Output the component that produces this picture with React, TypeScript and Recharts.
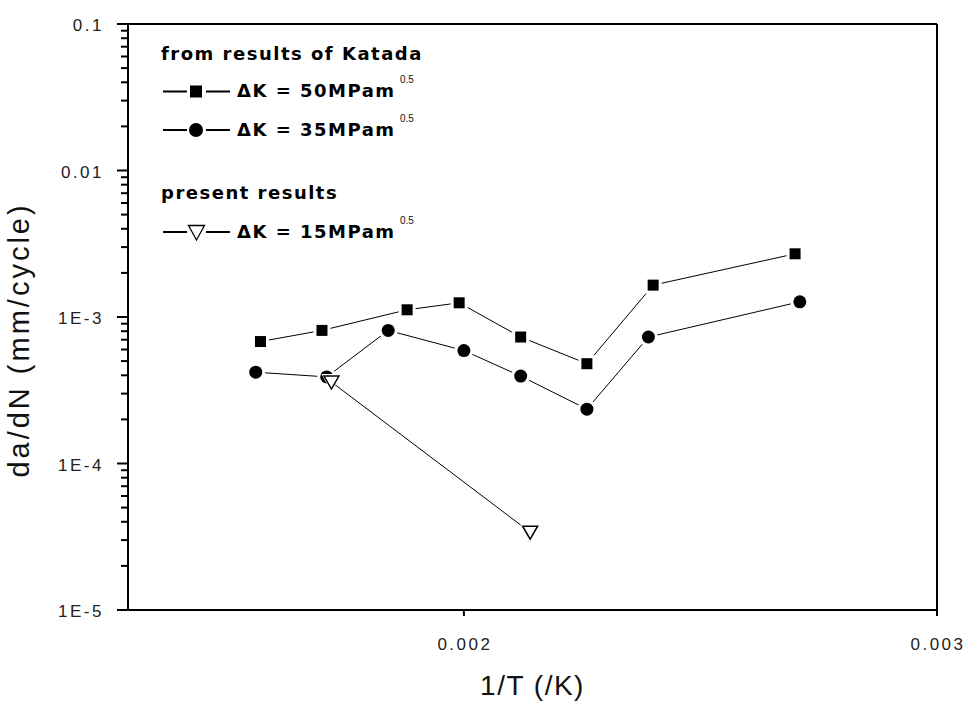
import React from 'react'
import { ScatterChart, Scatter, XAxis, YAxis, ReferenceLine } from 'recharts'

// Katada, dK = 50 MPa m^0.5
const katada50X = [0.00157, 0.0017, 0.00188, 0.00199, 0.00212, 0.00226, 0.0024, 0.0027]
const katada50Y = [6.8e-4, 8.1e-4, 1.12e-3, 1.25e-3, 7.3e-4, 4.8e-4, 1.65e-3, 2.7e-3]
// Katada, dK = 35 MPa m^0.5
const katada35X = [0.00156, 0.00171, 0.00184, 0.002, 0.00212, 0.00226, 0.00239, 0.00271]
const katada35Y = [4.2e-4, 3.9e-4, 8.1e-4, 5.9e-4, 3.95e-4, 2.35e-4, 7.3e-4, 1.27e-3]
// present results, dK = 15 MPa m^0.5
const presentX = [0.00172, 0.00214]
const presentY = [3.6e-4, 3.4e-5]

const yMajorTicks = [1e-5, 1e-4, 1e-3, 0.01, 0.1]
const yTickLabels = ['1E-5', '1E-4', '1E-3', '0.01', '0.1']
const yMinorSteps = [2, 3, 4, 5, 6, 7, 8, 9]
const xTicks = [0.002, 0.003]
const xTickLabels = ['0.002', '0.003']

const yMinorTicks = yMajorTicks.slice(0, -1).flatMap((d) => yMinorSteps.map((m) => d * m))

const toPoints = (xs: number[], ys: number[]) => xs.map((x, i) => ({ x, y: ys[i] }))

const tickFont = {
  fontFamily: '"Liberation Sans", Arial, sans-serif',
  fontSize: 17,
  letterSpacing: 2.5,
  fill: '#222',
}
const titleFont = '"Liberation Sans", Arial, sans-serif'
const legendFont = { fontFamily: '"DejaVu Sans", sans-serif', fontSize: 18, fontWeight: 700, letterSpacing: 1.5, fill: '#000' }
const supFont = { fontFamily: '"Liberation Sans", Arial, sans-serif', fontSize: 10, fill: '#111' }

const YTick = (props: any) => {
  const { x, y, payload } = props
  const i = yMajorTicks.indexOf(payload.value)
  return (
    <g>
      <line x1={x - 11} x2={x} y1={y} y2={y} stroke="#000" strokeWidth={2} />
      <text x={x - 24} y={y} dy={7} textAnchor="end" {...tickFont}>
        {yTickLabels[i]}
      </text>
    </g>
  )
}

// short outward mark at the left axis, placed by the y scale through ReferenceLine
const MinorTickShape = (props: any) => {
  const { x1, y1 } = props
  const xa = Math.min(props.x1, props.x2)
  if (typeof x1 !== 'number' || typeof y1 !== 'number') return null
  return <line x1={xa - 7} x2={xa} y1={y1} y2={y1} stroke="#000" strokeWidth={2} />
}

const XTick = (props: any) => {
  const { x, y, payload } = props
  const i = xTicks.indexOf(payload.value)
  return (
    <g>
      <line x1={x} x2={x} y1={y} y2={y + 6} stroke="#000" strokeWidth={2} />
      <text x={x + 1} y={y + 40} textAnchor="middle" {...tickFont}>
        {xTickLabels[i]}
      </text>
    </g>
  )
}

const SquareMark = ({ cx, cy }: any) => (
  <g>
    <rect x={cx - 8.5} y={cy - 8.5} width={17} height={17} fill="#fff" />
    <rect x={cx - 5.5} y={cy - 5.5} width={11} height={11} fill="#000" />
  </g>
)

const CircleMark = ({ cx, cy }: any) => (
  <g>
    <circle cx={cx} cy={cy} r={9.5} fill="#fff" />
    <circle cx={cx} cy={cy} r={6.5} fill="#000" />
  </g>
)

const TriangleMark = ({ cx, cy }: any) => (
  <g>
    <polygon points={`${cx - 10},${cy - 8} ${cx + 10},${cy - 8} ${cx},${cy + 10}`} fill="#fff" />
    <polygon
      points={`${cx - 7.5},${cy - 6} ${cx + 7.5},${cy - 6} ${cx},${cy + 7}`}
      fill="#fff"
      stroke="#000"
      strokeWidth={1.5}
    />
  </g>
)

const LegendOverlay = () => (
  <svg width={968} height={704} style={{ position: 'absolute', left: 0, top: 0, pointerEvents: 'none' }}>
    <text
      x={29}
      y={340}
      transform="rotate(-90 29 340)"
      textAnchor="middle"
      fontFamily={titleFont}
      fontSize={29}
      letterSpacing={3}
      fill="#111"
    >
      da/dN (mm/cycle)
    </text>

    <text x={161} y={60} {...legendFont}>from results of Katada</text>

    <line x1={163} x2={187} y1={91.5} y2={91.5} stroke="#000" strokeWidth={2} />
    <line x1={206} x2={230} y1={91.5} y2={91.5} stroke="#000" strokeWidth={2} />
    <rect x={190} y={85.5} width={12} height={12} fill="#000" />
    <text x={237} y={97} {...legendFont}>ΔK = 50MPam</text>
    <text x={400} y={83} {...supFont}>0.5</text>

    <line x1={163} x2={187} y1={130} y2={130} stroke="#000" strokeWidth={2} />
    <line x1={206} x2={230} y1={130} y2={130} stroke="#000" strokeWidth={2} />
    <circle cx={196} cy={130} r={7} fill="#000" />
    <text x={237} y={136} {...legendFont}>ΔK = 35MPam</text>
    <text x={400} y={122} {...supFont}>0.5</text>

    <text x={161} y={199} {...legendFont}>present results</text>

    <line x1={163} x2={187} y1={232} y2={232} stroke="#000" strokeWidth={2} />
    <line x1={206} x2={230} y1={232} y2={232} stroke="#000" strokeWidth={2} />
    <polygon points="188.5,225.5 204.5,225.5 196.5,240" fill="#fff" stroke="#000" strokeWidth={1.3} />
    <text x={237} y={238} {...legendFont}>ΔK = 15MPam</text>
    <text x={400} y={224} {...supFont}>0.5</text>
  </svg>
)

export default function App() {
  return (
    <div style={{ position: 'absolute', left: 0, top: 0, width: 968, height: 704, background: '#fff' }}>
      <ScatterChart width={968} height={704} margin={{ top: 24, right: 31, left: 0, bottom: 0 }}>
        <XAxis
          type="number"
          dataKey="x"
          domain={[0.00129, 0.003]}
          ticks={xTicks}
          interval={0}
          tick={<XTick />}
          tickLine={false}
          tickSize={0}
          tickMargin={0}
          height={94}
          axisLine={{ stroke: '#000', strokeWidth: 2 }}
          allowDataOverflow
          label={{
            value: '1/T (/K)',
            position: 'insideBottom',
            offset: 9,
            fontFamily: titleFont,
            fontSize: 28,
            letterSpacing: 1.5,
            fill: '#111',
          }}
        />
        <YAxis
          type="number"
          dataKey="y"
          scale="log"
          domain={[1e-5, 0.1]}
          ticks={yMajorTicks}
          interval={0}
          tick={<YTick />}
          tickLine={false}
          tickSize={0}
          tickMargin={0}
          width={128}
          axisLine={{ stroke: '#000', strokeWidth: 2 }}
          allowDataOverflow
        />
        {yMinorTicks.map((v) => (
          <ReferenceLine key={v} y={v} ifOverflow="visible" shape={<MinorTickShape />} />
        ))}
        <ReferenceLine y={0.1} stroke="#000" strokeWidth={2} />
        <ReferenceLine x={0.003} stroke="#000" strokeWidth={2} />
        <Scatter
          name="ΔK = 50MPam0.5"
          data={toPoints(katada50X, katada50Y)}
          line={{ stroke: '#000', strokeWidth: 1 }}
          lineType="joint"
          shape={<SquareMark />}
          isAnimationActive={false}
        />
        <Scatter
          name="ΔK = 35MPam0.5"
          data={toPoints(katada35X, katada35Y)}
          line={{ stroke: '#000', strokeWidth: 1 }}
          lineType="joint"
          shape={<CircleMark />}
          isAnimationActive={false}
        />
        <Scatter
          name="ΔK = 15MPam0.5"
          data={toPoints(presentX, presentY)}
          line={{ stroke: '#000', strokeWidth: 1 }}
          lineType="joint"
          shape={<TriangleMark />}
          isAnimationActive={false}
        />
      </ScatterChart>
      <LegendOverlay />
    </div>
  )
}
